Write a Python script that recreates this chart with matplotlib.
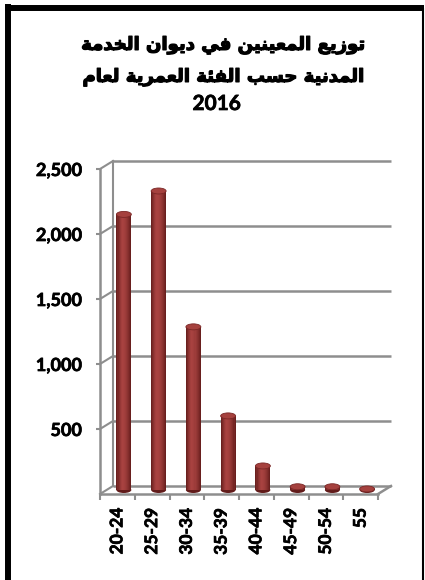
import matplotlib
matplotlib.use("Agg")
import matplotlib.pyplot as plt
from matplotlib.patches import Rectangle, Ellipse
from matplotlib.lines import Line2D
from matplotlib.transforms import offset_copy
from matplotlib.ticker import FuncFormatter
import matplotlib.patheffects as pe
import numpy as np

# ---------------- data ----------------
categories = ["20-24", "25-29", "30-34", "35-39", "40-44", "45-49", "50-54", "55"]
values = [2120, 2300, 1255, 570, 185, 25, 25, 8]
yticks = [500, 1000, 1500, 2000, 2500]
title_lines = ["توزيع المعينين في ديوان الخدمة",
               "المدنية حسب الفئة العمرية لعام",
               "2016"]

# ---------------- arabic shaping (matplotlib has no bidi/shaping) -------------
FORMS = {
    '\u0626': (0xFE89, 4), '\u0627': (0xFE8D, 2), '\u0628': (0xFE8F, 4),
    '\u0629': (0xFE93, 2), '\u062A': (0xFE95, 4), '\u062D': (0xFEA1, 4),
    '\u062E': (0xFEA5, 4), '\u062F': (0xFEA9, 2), '\u0631': (0xFEAD, 2),
    '\u0632': (0xFEAF, 2), '\u0633': (0xFEB1, 4), '\u0639': (0xFEC9, 4),
    '\u0641': (0xFED1, 4), '\u0644': (0xFEDD, 4), '\u0645': (0xFEE1, 4),
    '\u0646': (0xFEE5, 4), '\u0647': (0xFEE9, 4), '\u0648': (0xFEED, 2),
    '\u064A': (0xFEF1, 4),
}


def shape(s):
    out = []
    for i, c in enumerate(s):
        if c not in FORMS:
            out.append(c)
            continue
        base, n = FORMS[c]
        prev = s[i - 1] if i > 0 else ''
        nxt = s[i + 1] if i + 1 < len(s) else ''
        jp = prev in FORMS and FORMS[prev][1] == 4
        jn = n == 4 and nxt in FORMS
        off = 3 if (jp and jn) else 1 if jp else 2 if jn else 0
        out.append(chr(base + off))
    if any(c in FORMS for c in s):
        return ''.join(reversed(out))
    return s


# ---------------- figure ----------------
W, H = 425, 580
fig = plt.figure(figsize=(W / 100, H / 100), dpi=100)
fig.patch.set_facecolor("white")

# front plane of the 3-D box
x0, x1 = 100, 378
y0, y1 = 494, 169
ax = fig.add_axes([x0 / W, (H - y0) / H, (x1 - x0) / W, (y0 - y1) / H])
ax.set_xlim(-0.5, len(categories) - 0.5)
ax.set_ylim(0, 2500)
ax.patch.set_alpha(0)

DX, DY = 13, 8  # depth offset in pixels
back = offset_copy(ax.transData, fig=fig, x=DX, y=DY, units='dots')
mid = offset_copy(ax.transData, fig=fig, x=DX / 2, y=DY / 2, units='dots')

grid_c = "#8e8e8e"
xl, xr = -0.5, len(categories) - 0.5
# back wall gridlines + left-wall diagonals
for v in [0] + yticks:
    ax.add_line(Line2D([xl, xr], [v, v], transform=back, color=grid_c, lw=1.8,
                       solid_capstyle='butt', zorder=1, clip_on=False))
    p_front = ax.transData.transform((xl, v))
    p_back = back.transform((xl, v))
    fig.add_artist(Line2D([p_front[0] / W, p_back[0] / W],
                          [p_front[1] / H, p_back[1] / H],
                          transform=fig.transFigure, color=grid_c, lw=1.5, zorder=1))
# back wall left edge
ax.add_line(Line2D([xl, xl], [0, 2500], transform=back, color=grid_c, lw=1.5,
                   zorder=1, clip_on=False))
# floor right diagonal
p_front = ax.transData.transform((xr, 0))
p_back = back.transform((xr, 0))
fig.add_artist(Line2D([p_front[0] / W, p_back[0] / W], [p_front[1] / H, p_back[1] / H],
                      transform=fig.transFigure, color=grid_c, lw=1.8, zorder=1))

# ---------------- cylinders ----------------
bw = 0.43
px_per_unit = (y0 - y1) / 2500.0
eh = 6.0 / px_per_unit
dark = np.array([0x62, 0x1b, 0x1a]) / 255
light = np.array([0xa8, 0x42, 0x40]) / 255
nstrip = 14


def shade(t):
    if t < 0.38:
        f = t / 0.38
        return dark * (1 - f) ** 1.3 + light * (1 - (1 - f) ** 1.3)
    f = (t - 0.38) / 0.62
    return light * (1 - f ** 1.8) + dark * f ** 1.8


for i, v in enumerate(values):
    left = i - bw / 2
    ax.add_patch(Ellipse((i, 0), bw, eh, transform=mid, facecolor=dark,
                         edgecolor='none', zorder=3, clip_on=False))
    for k in range(nstrip):
        t = (k + 0.5) / nstrip
        ax.add_patch(Rectangle((left + k * bw / nstrip, 0), bw / nstrip * 1.05, v,
                               transform=mid, facecolor=shade(t), edgecolor='none',
                               zorder=4, clip_on=False))
    ax.add_patch(Ellipse((i, v), bw, eh, transform=mid, facecolor="#a5413e",
                         edgecolor="#7a2726", lw=0.6, zorder=5, clip_on=False))

# ---------------- axes / ticks ----------------
for s in ["top", "right"]:
    ax.spines[s].set_visible(False)
for s in ["left", "bottom"]:
    ax.spines[s].set_color(grid_c)
    ax.spines[s].set_linewidth(1.8)
    ax.spines[s].set_zorder(2)

ax.set_yticks(yticks)
ax.yaxis.set_major_formatter(FuncFormatter(lambda v, p: f"{int(v):,}"))
ax.tick_params(axis='y', length=3, width=1.5, color=grid_c, pad=10, labelsize=13)

ax.set_xticks(range(len(categories)))
ax.set_xticklabels(categories, rotation=90)
ax.set_xticks(np.arange(-0.5, len(categories), 1.0), minor=True)
ax.tick_params(axis='x', which='major', length=0, pad=10, labelsize=12.5)
ax.tick_params(axis='x', which='minor', length=4, width=1.5, color=grid_c)
for lab in ax.get_xticklabels() + ax.get_yticklabels():
    lab.set_fontfamily("Lato")
    lab.set_fontweight("bold")
    lab.set_color("black")
    lab.set_path_effects([pe.withStroke(linewidth=0.5, foreground='black')])

# ---------------- title ----------------
title_y = [45, 77, 104]
for line, yy in zip(title_lines, title_y):
    is_num = line == "2016"
    t = fig.text(0.525 if not is_num else 0.51, (H - yy) / H, shape(line),
                 ha='center', va='center',
                 fontsize=13 if not is_num else 15, fontweight='bold',
                 family=["DejaVu Sans"] if not is_num else ["Lato"],
                 color='black')
    t.set_path_effects([pe.withStroke(linewidth=0.9 if not is_num else 0.5,
                                      foreground='black')])

# ---------------- frame ----------------
fig.add_artist(Line2D([7.5 / W, 7.5 / W], [0, (H - 4) / H], transform=fig.transFigure,
                      color='black', lw=4.3, solid_capstyle='butt'))
fig.add_artist(Line2D([4.5 / W, 424 / W], [(H - 7.5) / H, (H - 7.5) / H],
                      transform=fig.transFigure, color='black', lw=4.3,
                      solid_capstyle='butt'))
fig.add_artist(Line2D([423 / W, 423 / W], [0, (H - 7.5) / H], transform=fig.transFigure,
                      color='black', lw=1.5, solid_capstyle='butt'))

fig.savefig("out.png", dpi=100)
